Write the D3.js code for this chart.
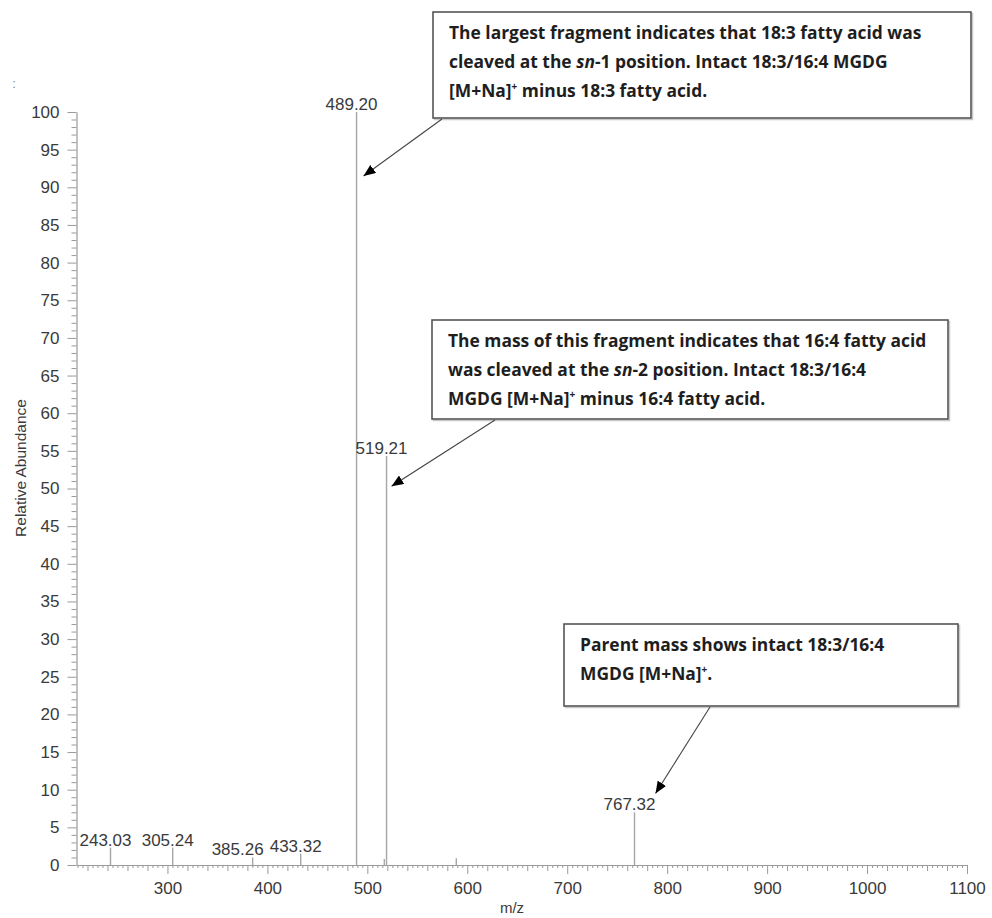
<!DOCTYPE html>
<html>
<head>
<meta charset="utf-8">
<script src="https://cdn.jsdelivr.net/npm/d3@7/dist/d3.min.js"></script>
<style>
  html, body { margin: 0; padding: 0; background: #fff; }
  svg { display: block; }
</style>
</head>
<body>
<script>
// MS/MS spectrum of MGDG 18:3/16:4 [M+Na]+ : centroid peaks
const peakMz        = [243.03, 305.24, 385.26, 433.32, 489.20, 517.0, 519.21, 589.0, 767.32];
const peakAbundance = [2.3,    2.3,    1.0,    1.5,    100,    0.8,   54.3,   0.9,   7.0];
const peakLabels    = ["243.03", "305.24", "385.26", "433.32", "489.20", "", "519.21", "", "767.32"];

const yMajorTicks = [0, 5, 10, 15, 20, 25, 30, 35, 40, 45, 50, 55, 60, 65, 70, 75, 80, 85, 90, 95, 100];
const xMajorTicks = [300, 400, 500, 600, 700, 800, 900, 1000, 1100];
const mzDomain = [209, 1100];

// Callout notes: the peak each one points at, and where along the peak the arrow lands
const noteTargetMz  = [489.20, 519.21, 767.32];
const noteTargetAbu = [91.5, 50.3, 9.5];
const noteLines = [
  [
    [{t: "The largest fragment indicates that 18:3 fatty acid was"}],
    [{t: "cleaved at the "}, {t: "sn", i: true}, {t: "-1 position. Intact 18:3/16:4 MGDG"}],
    [{t: "[M+Na]"}, {t: "+", sup: true}, {t: " minus 18:3 fatty acid."}]
  ],
  [
    [{t: "The mass of this fragment indicates that 16:4 fatty acid"}],
    [{t: "was cleaved at the "}, {t: "sn", i: true}, {t: "-2 position. Intact 18:3/16:4"}],
    [{t: "MGDG [M+Na]"}, {t: "+", sup: true}, {t: " minus 16:4 fatty acid."}]
  ],
  [
    [{t: "Parent mass shows intact 18:3/16:4"}],
    [{t: "MGDG [M+Na]"}, {t: "+", sup: true}, {t: "."}]
  ]
];

const W = 992, H = 918;
const plot = {left: 76.5, right: 967, top: 112, bottom: 865};

const svg = d3.select("body").append("svg").attr("width", W).attr("height", H);

const x = d3.scaleLinear().domain(mzDomain).range([plot.left, plot.right]);
const y = d3.scaleLinear().domain([0, 100]).range([plot.bottom, plot.top]);

const axisColor = "#9a9a9a";
const textColor = "#3a3a3a";
const numFont = "'Liberation Sans', Arial, sans-serif";

// ---- Y axis: minor ticks every 1, labelled major ticks every 5
const yMinor = d3.range(0, 101, 1).filter(v => v % 5 !== 0);
svg.append("g").attr("transform", `translate(${plot.left},0)`)
  .call(d3.axisLeft(y).tickValues(yMinor).tickSize(5).tickFormat(""))
  .call(g => g.select(".domain").remove())
  .call(g => g.selectAll("line").attr("stroke", axisColor));

const yAxis = svg.append("g").attr("transform", `translate(${plot.left},0)`)
  .call(d3.axisLeft(y).tickValues(yMajorTicks).tickSize(9).tickPadding(8).tickSizeOuter(0).tickFormat(d3.format("d")));
yAxis.select(".domain").attr("stroke", axisColor).attr("stroke-width", 1.2);
yAxis.selectAll("line").attr("stroke", axisColor);
yAxis.selectAll("text").attr("fill", textColor).style("font", `17px ${numFont}`);

// ---- X axis: ticks every 5, longer every 20, labelled every 100
const xSmall = d3.range(210, 1101, 5).filter(v => v % 20 !== 0 && v % 100 !== 0);
const xMid = d3.range(220, 1101, 20).filter(v => v % 100 !== 0);
svg.append("g").attr("transform", `translate(0,${plot.bottom})`)
  .call(d3.axisBottom(x).tickValues(xSmall).tickSize(3).tickFormat(""))
  .call(g => g.select(".domain").remove())
  .call(g => g.selectAll("line").attr("stroke", axisColor));
svg.append("g").attr("transform", `translate(0,${plot.bottom})`)
  .call(d3.axisBottom(x).tickValues(xMid).tickSize(6).tickFormat(""))
  .call(g => g.select(".domain").remove())
  .call(g => g.selectAll("line").attr("stroke", axisColor));
const xAxis = svg.append("g").attr("transform", `translate(0,${plot.bottom})`)
  .call(d3.axisBottom(x).tickValues(xMajorTicks).tickSize(9).tickPadding(8).tickSizeOuter(0).tickFormat(d3.format("d")));
xAxis.select(".domain").attr("stroke", axisColor).attr("stroke-width", 1.2);
xAxis.selectAll("line").attr("stroke", axisColor);
xAxis.selectAll("text").attr("fill", textColor).style("font", `17px ${numFont}`);

// ---- Axis titles
svg.append("text")
  .attr("transform", `translate(26,468) rotate(-90)`)
  .attr("text-anchor", "middle")
  .attr("fill", textColor)
  .style("font", `15.5px ${numFont}`)
  .text("Relative Abundance");
svg.append("text")
  .attr("x", 512).attr("y", 913)
  .attr("text-anchor", "middle")
  .attr("fill", textColor)
  .style("font", `15px ${numFont}`)
  .text("m/z");
svg.append("text")
  .attr("x", 14).attr("y", 88)
  .attr("text-anchor", "middle")
  .attr("fill", "#888")
  .style("font", `13px ${numFont}`)
  .text(":");

// ---- Peaks as sticks
const peaks = peakMz.map((mz, i) => ({mz, abu: peakAbundance[i], label: peakLabels[i]}));
svg.append("g").selectAll("line").data(peaks).join("line")
  .attr("x1", d => x(d.mz)).attr("x2", d => x(d.mz))
  .attr("y1", y(0)).attr("y2", d => y(d.abu))
  .attr("stroke", "#a6a6a6").attr("stroke-width", 1.4);

// Peak m/z labels, nudged left of the stick; 385.26 shifted further to clear its neighbour
svg.append("g").selectAll("text").data(peaks.filter(d => d.label)).join("text")
  .attr("x", d => x(d.mz) - (d.label === "385.26" ? 15 : 5))
  .attr("y", d => y(d.abu) - 2)
  .attr("text-anchor", "middle")
  .attr("fill", textColor)
  .style("font", `17px ${numFont}`)
  .text(d => d.label);

// ---- Callout boxes with arrows
const defs = svg.append("defs");
defs.append("marker")
  .attr("id", "head").attr("viewBox", "0 0 12 10")
  .attr("refX", 12).attr("refY", 5)
  .attr("markerWidth", 12).attr("markerHeight", 10)
  .attr("markerUnits", "userSpaceOnUse")
  .attr("orient", "auto")
  .append("path").attr("d", "M0,0 L12,5 L0,10 Z").attr("fill", "#000");

const boxes = [
  {x0: 433, y0: 12,  x1: 971, y1: 118, ax: 442, ay: 119, dx: 7},
  {x0: 432, y0: 320, x1: 948, y1: 419, ax: 495, ay: 420, dx: 5},
  {x0: 564, y0: 624, x1: 958, y1: 706, ax: 710, ay: 707, dx: 21}
];
const noteFont = "'Open Sans', Lato, sans-serif";

// size the note font so the first line of the first note spans ~473px
const probe = svg.append("text").style("font", `bold 17px ${noteFont}`).text(noteLines[0][0][0].t);
const noteSize = 17 * 473 / probe.node().getComputedTextLength();
probe.remove();

boxes.forEach((b, k) => {
  const g = svg.append("g");
  g.append("rect")
    .attr("x", b.x0 + 1.5).attr("y", b.y0 + 1.5)
    .attr("width", b.x1 - b.x0).attr("height", b.y1 - b.y0)
    .attr("fill", "none").attr("stroke", "#c8c8c8").attr("stroke-width", 1.5);
  g.append("rect")
    .attr("x", b.x0).attr("y", b.y0)
    .attr("width", b.x1 - b.x0).attr("height", b.y1 - b.y0)
    .attr("fill", "#fff").attr("stroke", "#555").attr("stroke-width", 1.6);

  noteLines[k].forEach((line, li) => {
    const t = g.append("text")
      .attr("x", b.x0 + 16).attr("y", b.y0 + 27 + li * 29)
      .attr("fill", "#1e1e1e")
      .style("font", `bold ${noteSize}px ${noteFont}`);
    line.forEach(seg => {
      const s = t.append("tspan").text(seg.t);
      if (seg.i) s.style("font-style", "italic");
      if (seg.sup) s.attr("baseline-shift", "super").style("font-size", "10px");
    });
  });

  // arrow to the peak it describes
  const tx = x(noteTargetMz[k]) + b.dx;
  const ty = y(noteTargetAbu[k]);
  svg.append("line")
    .attr("x1", b.ax).attr("y1", b.ay)
    .attr("x2", tx).attr("y2", ty)
    .attr("stroke", "#444").attr("stroke-width", 1.1)
    .attr("marker-end", "url(#head)");
});
</script>
</body>
</html>
